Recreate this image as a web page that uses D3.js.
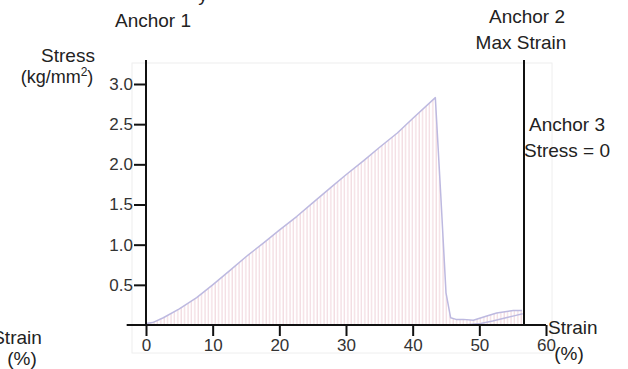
<!DOCTYPE html>
<head>
<meta charset="utf-8">
<title> Stress strain </title>
<script type="text/javascript" src="https://cdnjs.cloudflare.com/ajax/libs/d3/7.8.5/d3.min.js"></script>

<style>
body {
	margin: 0;
	background: #fff;
	}

text {
	font-family: "Liberation Sans", Arial, sans-serif;
	fill: #222;
	}

.axis text {
	font: 17px "Liberation Sans", Arial, sans-serif;
	fill: #333;
	}

.axis path,
.axis line {
	fill: none;
	stroke: #111;
	stroke-width: 2;
	}
</style>

</head>
<body>

<script>
// values
var strain = [0, 1, 2.6, 5, 7.6, 10, 12.6, 15, 17.6, 20, 22.6, 25, 27.7, 30, 32.7, 35, 37.7, 40, 43.4,
	44.2, 45, 45.7, 46.5, 47.6, 49.1, 51, 52.6, 55.1, 56.4];
var stress = [0.02, 0.03, 0.09, 0.2, 0.34, 0.5, 0.68, 0.85, 1.02, 1.18, 1.35, 1.52, 1.71, 1.87, 2.05, 2.21, 2.39, 2.57, 2.83,
	1.64, 0.4, 0.09, 0.07, 0.07, 0.06, 0.11, 0.15, 0.18, 0.18];

// second, lower trace near the end
var strainLow = [47.5, 49, 50.2, 52, 54, 55.5, 56.5];
var stressLow = [0, 0.01, 0.02, 0.05, 0.09, 0.12, 0.14];

var xTicks = [0, 10, 20, 30, 40, 50, 60];
var yTicks = [0.5, 1.0, 1.5, 2.0, 2.5, 3.0];
var maxStrain = 56.7;

var width = 628, height = 369;

var svg = d3.select('body').append("svg")
	.attr("width", width)
	.attr("height", height);

var x = d3.scaleLinear().domain([0, 60]).range([146, 546]);
var y = d3.scaleLinear().domain([0, 3]).range([325, 84]);

// hatch pattern for the area
var defs = svg.append("defs");
var pat = defs.append("pattern")
	.attr("id", "hatch")
	.attr("patternUnits", "userSpaceOnUse")
	.attr("width", 3.4)
	.attr("height", 10);
pat.append("line")
	.attr("x1", 1).attr("x2", 1)
	.attr("y1", 0).attr("y2", 10)
	.attr("stroke", "#f0d2d9")
	.attr("stroke-width", 1);

// faint frame of the original figure
svg.append("rect")
	.attr("x", 132).attr("y", 63)
	.attr("width", 420).attr("height", 290)
	.attr("fill", "none")
	.attr("stroke", "#eeeeee")
	.attr("stroke-width", 1);

var pts = strain.map(function(d, i) { return [d, stress[i]]; });
var lowPts = strainLow.map(function(d, i) { return [d, stressLow[i]]; });

var area = d3.area()
	.x(function(d) { return x(d[0]); })
	.y0(y(0))
	.y1(function(d) { return y(d[1]); });

var line = d3.line()
	.x(function(d) { return x(d[0]); })
	.y(function(d) { return y(d[1]); });

svg.append("path")
	.datum(pts)
	.attr("d", area)
	.attr("fill", "url(#hatch)");

svg.append("path")
	.datum(pts)
	.attr("d", line)
	.attr("fill", "none")
	.attr("stroke", "#bdb9e0")
	.attr("stroke-width", 1.5)
	.attr("stroke-linejoin", "round");

svg.append("path")
	.datum(lowPts)
	.attr("d", line)
	.attr("fill", "none")
	.attr("stroke", "#bdb9e0")
	.attr("stroke-width", 1.5);

// axes
var xAxis = svg.append("g")
	.attr("class", "axis")
	.attr("transform", "translate(0," + y(0) + ")")
	.call(d3.axisBottom(x).tickValues(xTicks).tickSize(11).tickPadding(3).tickSizeOuter(0));
xAxis.select(".domain").remove();
xAxis.append("line")
	.attr("x1", x(-2.9)).attr("x2", x(60))
	.attr("y1", 0).attr("y2", 0);

var yAxis = svg.append("g")
	.attr("class", "axis")
	.attr("transform", "translate(" + x(0) + ",0)")
	.call(d3.axisLeft(y).tickValues(yTicks).tickSize(12).tickPadding(1)
		.tickFormat(d3.format(".1f")).tickSizeOuter(0));
yAxis.select(".domain").remove();
yAxis.append("line")
	.attr("x1", 0).attr("x2", 0)
	.attr("y1", y(3.3)).attr("y2", y(0));

// max strain line
svg.append("line")
	.attr("x1", x(maxStrain)).attr("x2", x(maxStrain))
	.attr("y1", y(3.3)).attr("y2", y(0))
	.attr("stroke", "#111")
	.attr("stroke-width", 2);

// labels
function label(txt, px, py, anchor) {
	return svg.append("text")
		.attr("x", px).attr("y", py)
		.attr("text-anchor", anchor || "middle")
		.attr("font-size", 19)
		.text(txt);
}

label("y", 203, 1, "middle");
label("Anchor 1", 153, 27);
label("Anchor 2", 527, 23);
label("Max Strain", 521, 49);
label("Anchor 3", 567, 131);
label("Stress = 0", 567, 157);
label("Stress", 68, 62);
var units = svg.append("text")
	.attr("x", 57).attr("y", 83)
	.attr("text-anchor", "middle")
	.attr("font-size", 18);
units.append("tspan").text("(kg/mm");
units.append("tspan").attr("font-size", 12).attr("dy", -7).text("2");
units.append("tspan").attr("dy", 7).text(")");
label("Strain", 548, 334, "start");
label("(%)", 569, 360);
label("Strain", 17, 344);
label("(%)", 22, 365);
</script>

</body>
